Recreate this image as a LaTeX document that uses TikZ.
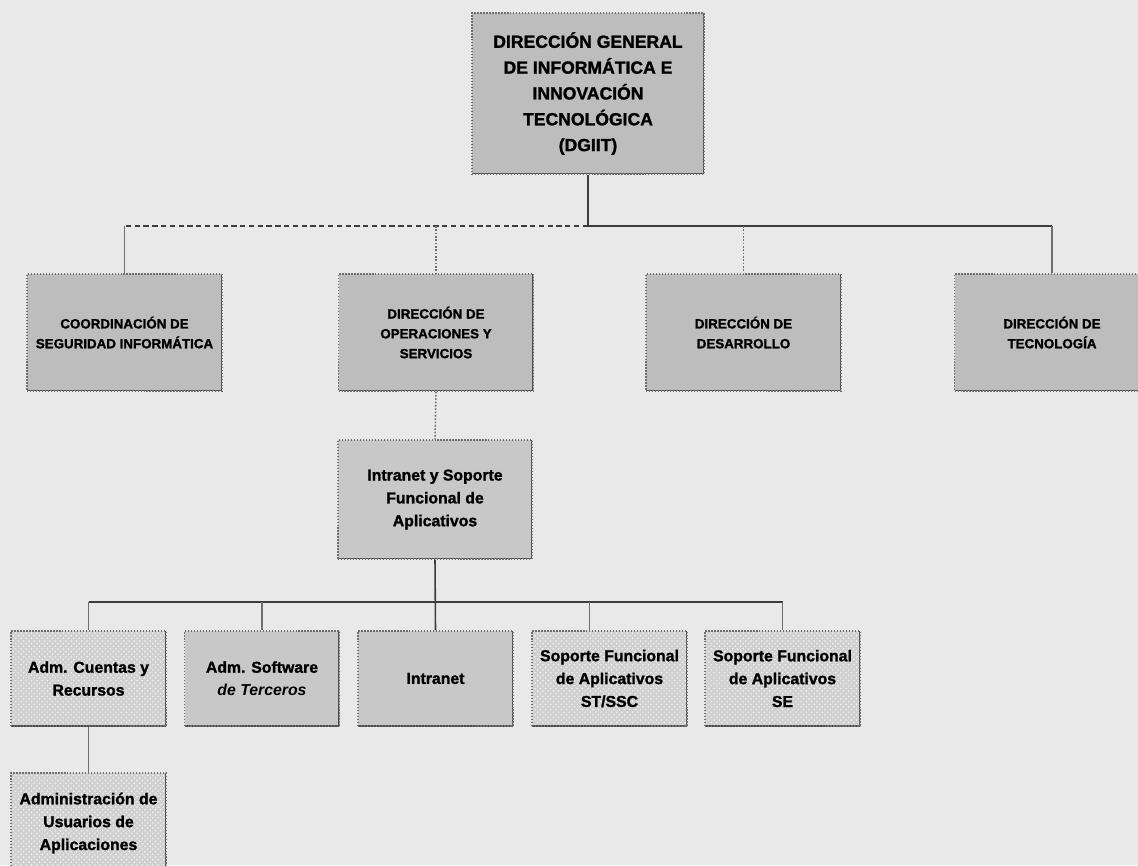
\documentclass[tikz,border=0pt]{standalone}
\usepackage{fontspec}
\setmainfont{Liberation Sans}[BoldFeatures={FakeBold=1.4}]
\usetikzlibrary{calc, patterns}
\definecolor{paper}{HTML}{E9E9E9}
\definecolor{boxgray}{HTML}{BDBDBD}
\definecolor{lightbox}{HTML}{C8C8C8}
\definecolor{patgray}{HTML}{D0D0D0}
\definecolor{edgegray}{HTML}{6E6E6E}
\definecolor{wiregray}{HTML}{3C3C3C}

\tikzset{
    unitbox/.style={draw=edgegray, densely dotted, line width=0.7pt, fill=boxgray,
        align=center, inner sep=0pt, font=\bfseries,
        path picture={\draw[solid, edgegray!70!black, line width=1.4pt]
            (path picture bounding box.north east) -- (path picture bounding box.south east)
            -- (path picture bounding box.south west);}},
    topbox/.style={unitbox, font=\bfseries\fontsize{10}{14.7}\selectfont,
        minimum width=4.64cm, minimum height=3.22cm},
    dirbox/.style={unitbox, font=\bfseries\fontsize{7.6}{11.3}\selectfont,
        minimum width=3.9cm, minimum height=2.34cm},
    areabox/.style={unitbox, fill=lightbox, font=\bfseries\fontsize{9}{13}\selectfont,
        minimum width=3.88cm, minimum height=2.38cm},
    subbox/.style={unitbox, fill=lightbox, font=\bfseries\fontsize{9}{13}\selectfont,
        minimum width=3.1cm, minimum height=1.9cm},
    patbox/.style={subbox, preaction={fill=patgray}, pattern=crosshatch dots,
        pattern color=white!75!patgray},
    wire/.style={draw=wiregray, line width=0.9pt},
    dropwire/.style={draw=edgegray, line width=0.9pt},
    dotwire/.style={dropwire, densely dotted}
}

\begin{document}
\begin{tikzpicture}[x=0.02cm, y=-0.02cm]

    % page
    \useasboundingbox (0,0) rectangle (1138,865);
    \fill[paper] (0,0) rectangle (1138,865);

    % Direccion general
    \node[topbox] (dgiit) at (588,93.5) {DIRECCIÓN GENERAL\\DE INFORMÁTICA E\\INNOVACIÓN\\TECNOLÓGICA\\(DGIIT)};

    % Direcciones
    \node[dirbox] (coord) at (124.5,332.5) {COORDINACIÓN DE\\SEGURIDAD INFORMÁTICA};
    \node[dirbox] (dirops) at (436,332.5) {DIRECCIÓN DE\\OPERACIONES Y\\SERVICIOS};
    \node[dirbox] (dirdes) at (743.5,332.5) {DIRECCIÓN DE\\DESARROLLO};
    \node[dirbox] (dirtec) at (1052,332.5) {DIRECCIÓN DE\\TECNOLOGÍA};

    % Subdireccion
    \node[areabox] (intsop) at (435,499.5) {Intranet y Soporte\\Funcional de\\Aplicativos};

    % Areas
    \node[patbox] (adcue) at (88.5,678.5) {Adm. Cuentas y\\Recursos};
    \node[subbox] (adsof) at (262,678.5) {Adm. Software\\\textit{de Terceros}};
    \node[subbox] (intra) at (435.5,678.5) {Intranet};
    \node[patbox] (sopst) at (609.5,678.5) {Soporte Funcional\\de Aplicativos\\ST/SSC};
    \node[patbox] (sopse) at (782.5,678.5) {Soporte Funcional\\de Aplicativos\\SE};
    \node[patbox, minimum height=2cm] (adusu) at (88.5,823) {Administración de\\Usuarios de\\Aplicaciones};

    % lines, first level
    \coordinate (bus1) at (588,226);
    \draw[wire] (dgiit.south) -- (bus1);
    \draw[wire, densely dashed] (bus1) -- (bus1 -| coord.north);
    \draw[wire] (bus1) -- (bus1 -| dirtec.north);
    \draw[dropwire] (bus1 -| coord.north) -- (coord.north);
    \draw[dotwire] (bus1 -| dirops.north) -- (dirops.north);
    \draw[dotwire] (bus1 -| dirdes.north) -- (dirdes.north);
    \draw[dropwire] (bus1 -| dirtec.north) -- (dirtec.north);

    % lines, second level
    \draw[dotwire] (dirops.south) -- (intsop.north);
    \coordinate (bus2) at (436,602);
    \draw[wire] (intsop.south) -- (intra.north);
    \draw[wire] (bus2 -| adcue.north) -- (bus2 -| sopse.north);
    \draw[dropwire] (bus2 -| adcue.north) -- (adcue.north);
    \draw[dropwire] (bus2 -| adsof.north) -- (adsof.north);
    \coordinate (stdrop) at ($(sopst.north)+(-20,0)$);
    \draw[dropwire] (bus2 -| stdrop) -- (stdrop);
    \draw[dropwire] (bus2 -| sopse.north) -- (sopse.north);
    \draw[dropwire] (adcue.south) -- (adusu.north);

\end{tikzpicture}
\end{document}
